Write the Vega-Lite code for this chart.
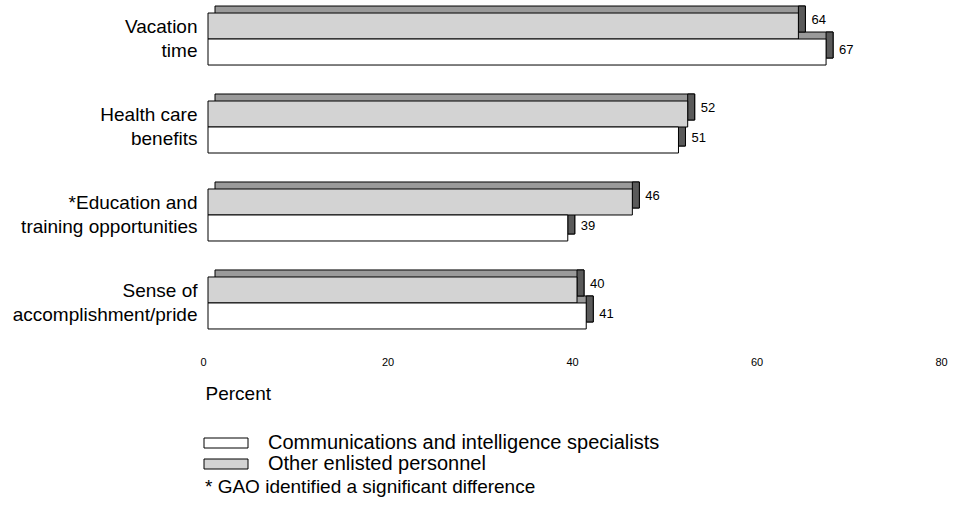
{
  "$schema": "https://vega.github.io/schema/vega-lite/v6.json",
  "width": 738,
  "height": 342,
  "autosize": "none",
  "padding": {"left": 208, "top": 0, "right": 12, "bottom": 168},
  "background": "white",
  "config": {"view": {"stroke": null}, "font": "Liberation Sans"},
  "data": {
    "values": [
      {"category": "Vacation time", "group": "Other enlisted personnel", "value": 64},
      {"category": "Vacation time", "group": "Communications and intelligence specialists", "value": 67},
      {"category": "Health care benefits", "group": "Other enlisted personnel", "value": 52},
      {"category": "Health care benefits", "group": "Communications and intelligence specialists", "value": 51},
      {"category": "*Education and training opportunities", "group": "Other enlisted personnel", "value": 46},
      {"category": "*Education and training opportunities", "group": "Communications and intelligence specialists", "value": 39},
      {"category": "Sense of accomplishment/pride", "group": "Other enlisted personnel", "value": 40},
      {"category": "Sense of accomplishment/pride", "group": "Communications and intelligence specialists", "value": 41}
    ]
  },
  "encoding": {
    "y": {
      "field": "category",
      "type": "nominal",
      "sort": ["Vacation time", "Health care benefits", "*Education and training opportunities", "Sense of accomplishment/pride"],
      "scale": {"paddingInner": 0.409, "paddingOuter": 0.148},
      "axis": {
        "title": null,
        "domain": false,
        "ticks": false,
        "labelPadding": 11,
        "labelFontSize": 19,
        "labelColor": "black",
        "labelLineHeight": 24,
        "labelOffset": -12,
        "labelLimit": 300,
        "labelExpr": "datum.value == 'Vacation time' ? ['Vacation','time'] : datum.value == 'Health care benefits' ? ['Health care','benefits'] : datum.value == '*Education and training opportunities' ? ['*Education and','training opportunities'] : ['Sense of','accomplishment/pride']"
      }
    },
    "x": {
      "field": "value",
      "type": "quantitative",
      "scale": {"domain": [0, 80], "nice": false},
      "axis": {
        "values": [0, 20, 40, 60, 80],
        "grid": false,
        "domain": false,
        "ticks": false,
        "tickSize": 0,
        "labelPadding": 14,
        "labelFontSize": 11,
        "labelColor": "black",
        "labelOffset": -5,
        "labelFlush": false,
        "title": "Percent",
        "titleFontSize": 19,
        "titleFontWeight": "normal",
        "titleAnchor": "start",
        "titleAlign": "left",
        "titleX": -3,
        "titleY": 42,
        "titleBaseline": "top",
        "titleColor": "black"
      }
    }
  },
  "layer": [
    {
      "encoding": {
        "yOffset": {
          "field": "group",
          "type": "nominal",
          "scale": {"domain": ["Other enlisted personnel", "Communications and intelligence specialists"], "paddingInner": 0, "paddingOuter": 0, "range": [-7, 45]}
        }
      },
      "layer": [
        {
          "mark": {"type": "bar", "fill": "#9a9a9a", "stroke": "black", "strokeWidth": 1, "xOffset": 7, "x2Offset": 7}
        },
        {
          "mark": {"type": "bar", "fill": "#5a5a5a", "stroke": "black", "strokeWidth": 1, "xOffset": 7},
          "encoding": {"x2": {"field": "value"}}
        }
      ]
    },
    {
      "encoding": {
        "yOffset": {
          "field": "group",
          "type": "nominal",
          "scale": {"domain": ["Other enlisted personnel", "Communications and intelligence specialists"], "paddingInner": 0, "paddingOuter": 0}
        }
      },
      "layer": [
        {
          "mark": {"type": "bar", "stroke": "black", "strokeWidth": 1},
          "encoding": {
            "color": {
              "field": "group",
              "type": "nominal",
              "scale": {"domain": ["Communications and intelligence specialists", "Other enlisted personnel"], "range": ["white", "#d3d3d3"]},
              "legend": {
                "orient": "none",
                "legendX": -3,
                "legendY": 433,
                "title": "* GAO identified a significant difference",
                "titleOrient": "bottom",
                "titleAnchor": "start",
                "titleFontSize": 19,
                "titleFontWeight": "normal",
                "titleColor": "black",
                "titlePadding": 4,
                "titleLimit": 600,
                "labelFontSize": 20,
                "labelColor": "black",
                "labelOffset": 32,
                "labelLimit": 600,
                "symbolType": "M-4.4,-1H4.4V1H-4.4Z",
                "symbolSize": 100,
                "symbolOffset": 11,
                "symbolStrokeColor": "black",
                "symbolStrokeWidth": 1,
                "rowPadding": 1,
                "padding": 0
              }
            }
          }
        },
        {
          "transform": [{"filter": "datum.group == 'Other enlisted personnel'"}],
          "mark": {"type": "text", "align": "left", "dx": 13, "dy": -6, "fontSize": 13, "color": "black"},
          "encoding": {"text": {"field": "value", "type": "quantitative"}}
        },
        {
          "transform": [{"filter": "datum.group == 'Communications and intelligence specialists'"}],
          "mark": {"type": "text", "align": "left", "dx": 13, "dy": -2, "fontSize": 13, "color": "black"},
          "encoding": {"text": {"field": "value", "type": "quantitative"}}
        }
      ]
    }
  ],
  "resolve": {"scale": {"yOffset": "independent"}}
}
